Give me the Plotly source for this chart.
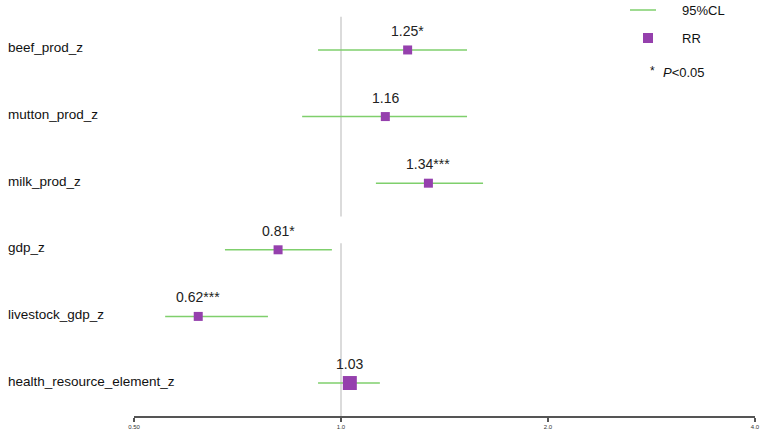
import plotly.graph_objects as go
import math

variables = ["beef_prod_z", "mutton_prod_z", "milk_prod_z", "gdp_z", "livestock_gdp_z", "health_resource_element_z"]
rr = [1.25, 1.16, 1.34, 0.81, 0.62, 1.03]
ci_low = [0.926, 0.878, 1.124, 0.678, 0.555, 0.926]
ci_high = [1.525, 1.525, 1.609, 0.970, 0.783, 1.139]
labels = ["1.25*", "1.16", "1.34***", "0.81*", "0.62***", "1.03"]
marker_sizes = [9, 9, 9, 9, 9, 14]
tick_vals = [0.5, 1.0, 2.0, 4.0]
tick_text = ["0.50", "1.0", "2.0", "4.0"]

GREEN = "#7fcf6c"
PURPLE = "#9540ad"
FONT = "Liberation Sans, Arial, sans-serif"

n = len(variables)
ypos = [n - i for i in range(n)]

fig = go.Figure()

# CI lines
for i in range(n):
    fig.add_trace(go.Scatter(x=[ci_low[i], ci_high[i]], y=[ypos[i], ypos[i]], mode="lines",
                             line=dict(color=GREEN, width=1.5), showlegend=False, hoverinfo="skip"))

# RR squares
fig.add_trace(go.Scatter(x=rr, y=ypos, mode="markers", opacity=1,
                         marker=dict(symbol="square", size=marker_sizes, color=PURPLE, opacity=1,
                                     line=dict(width=0)),
                         showlegend=False))

# Reference line at 1 (two segments with a gap)
fig.add_shape(type="line", xref="x", yref="y", x0=1, x1=1, y0=3.5, y1=6.5,
              line=dict(color="#cfcfcf", width=1.5), layer="below")
fig.add_shape(type="line", xref="x", yref="y", x0=1, x1=1, y0=0.505, y1=3.1,
              line=dict(color="#cfcfcf", width=1.5), layer="below")

# Value labels
for i in range(n):
    fig.add_annotation(x=math.log10(rr[i]), y=ypos[i], text=labels[i], showarrow=False,
                       yshift=19, font=dict(size=14, color="#222", family=FONT))

# Category labels
PLOT_L = 134
PLOT_W = 621
for i in range(n):
    fig.add_annotation(x=(6 - PLOT_L) / PLOT_W, xref="paper", y=ypos[i], yref="y",
                       text=variables[i], showarrow=False, xanchor="left", yanchor="middle", yshift=2,
                       font=dict(size=13.5, color="#111", family=FONT))

# Custom legend
PLOT_H = 416
def px(xp):
    return (xp - PLOT_L) / PLOT_W
def py(yp):
    return (PLOT_H - yp) / PLOT_H

fig.add_shape(type="line", xref="paper", yref="paper", x0=px(630), x1=px(656), y0=py(10), y1=py(10),
              line=dict(color=GREEN, width=1.5))
fig.add_shape(type="rect", xref="paper", yref="paper", x0=px(643), x1=px(653), y0=py(33), y1=py(43),
              fillcolor=PURPLE, line=dict(width=0))
fig.add_annotation(x=px(680), y=py(10), xref="paper", yref="paper", text="95%CL", showarrow=False,
                   xanchor="left", yanchor="middle", font=dict(size=13, color="#111", family=FONT))
fig.add_annotation(x=px(680), y=py(38), xref="paper", yref="paper", text="RR", showarrow=False,
                   xanchor="left", yanchor="middle", font=dict(size=13, color="#111", family=FONT))
fig.add_annotation(x=px(648), y=py(71), xref="paper", yref="paper", text="*", showarrow=False,
                   xanchor="left", yanchor="middle", font=dict(size=12, color="#111", family=FONT))
fig.add_annotation(x=px(661), y=py(72), xref="paper", yref="paper", text="<i>P</i><0.05", showarrow=False,
                   xanchor="left", yanchor="middle", font=dict(size=13, color="#111", family=FONT))

fig.update_xaxes(type="log", range=[math.log10(0.5), math.log10(4)], tickvals=tick_vals, ticktext=tick_text,
                 showline=True, linecolor="#555", linewidth=1.5, ticks="outside", ticklen=4,
                 tickcolor="#555", tickwidth=1.5, showgrid=False, zeroline=False,
                 tickfont=dict(size=6, color="#333", family=FONT))
fig.update_yaxes(range=[0.505, 6.75], showticklabels=False, showgrid=False, zeroline=False, showline=False)

fig.update_layout(width=764, height=437, margin=dict(l=PLOT_L, r=764 - PLOT_L - PLOT_W, t=0, b=21),
                  plot_bgcolor="white", paper_bgcolor="white", showlegend=False)

fig.write_html("out.html")
